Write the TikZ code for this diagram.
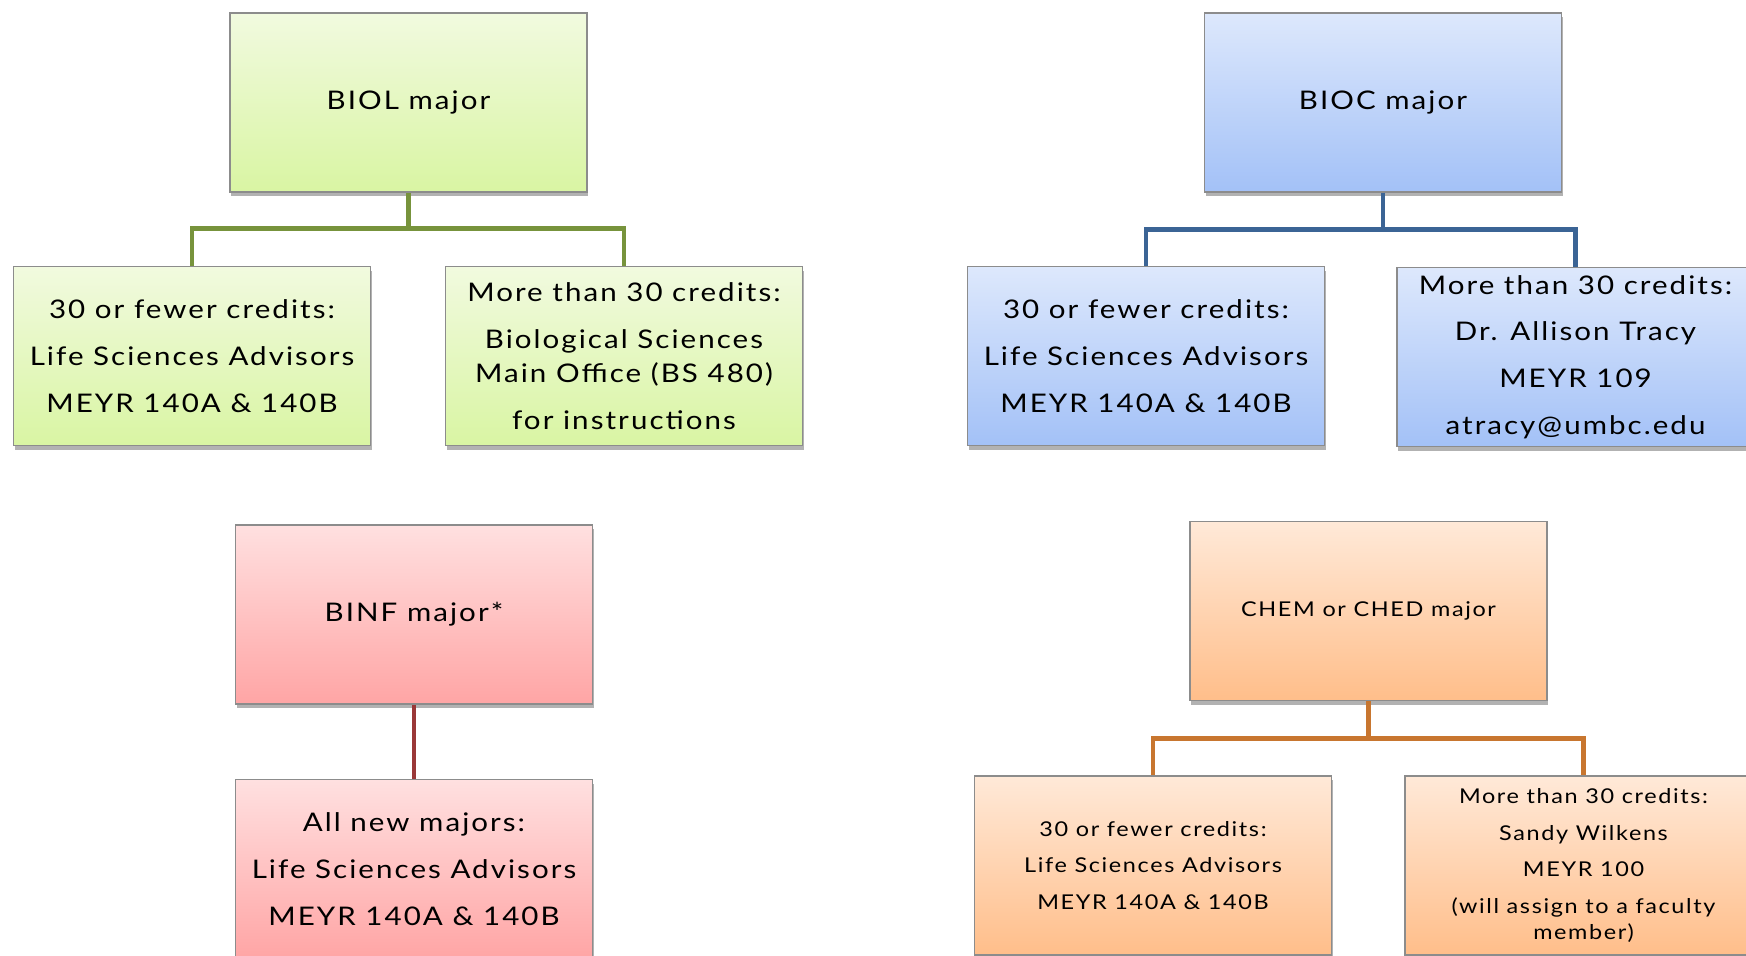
\documentclass[tikz,border=0pt]{standalone}
\usepackage{fontspec}
\setmainfont{Lato}[FakeStretch=1.15, LetterSpace=8]
\usetikzlibrary{shadows}

\definecolor{biolTop}{HTML}{F1FADF}
\definecolor{biolBot}{HTML}{D9F5A3}
\definecolor{biolLine}{HTML}{77933C}
\definecolor{biocTop}{HTML}{DDE8FC}
\definecolor{biocBot}{HTML}{A3C1F7}
\definecolor{biocLine}{HTML}{3B6495}
\definecolor{binfTop}{HTML}{FFE0E0}
\definecolor{binfBot}{HTML}{FFA5A5}
\definecolor{binfLine}{HTML}{9A3838}
\definecolor{chemTop}{HTML}{FFE9D8}
\definecolor{chemBot}{HTML}{FFBE8A}
\definecolor{chemLine}{HTML}{C8762F}

\begin{document}
\begin{tikzpicture}[x=0.1mm, y=-0.1mm,
    box/.style={draw=black!45, line width=0.5pt, minimum width=35.7mm,
      minimum height=17.9mm, align=center, inner sep=0pt,
      font=\fontsize{7.3}{9.8}\selectfont,
      drop shadow={shadow xshift=0.4pt, shadow yshift=-1.2pt, opacity=0.3, fill=black}},
    biolbox/.style={box, top color=biolTop, bottom color=biolBot},
    biocbox/.style={box, top color=biocTop, bottom color=biocBot},
    binfbox/.style={box, top color=binfTop, bottom color=binfBot},
    chembox/.style={box, top color=chemTop, bottom color=chemBot,
      font=\fontsize{5.8}{7.3}\selectfont},
    link/.style={line width=1.4pt}]
    \useasboundingbox (0,0) rectangle (1746,955);
    \clip (0,0) rectangle (1746,955);

    % BIOL
    \node[biolbox] (biol) at (408.5,102.5) {BIOL major};
    \node[biolbox] (biolLow) at (192,356)
      {30 or fewer credits:\\[3.5pt]Life Sciences Advisors\\[3.5pt]MEYR 140A \& 140B};
    \node[biolbox] (biolHigh) at (624,356)
      {More than 30 credits:\\[3.5pt]Biological Sciences\\Main Office (BS 480)\\[3.5pt]for instructions};
    \draw[link, biolLine] (biol.south) -- ++(0,36) -| (biolLow.north);
    \draw[link, biolLine] (biol.south) -- ++(0,36) -| (biolHigh.north);

    % BIOC
    \node[biocbox] (bioc) at (1383,102.5) {BIOC major};
    \node[biocbox] (biocLow) at (1146,356)
      {30 or fewer credits:\\[3.5pt]Life Sciences Advisors\\[3.5pt]MEYR 140A \& 140B};
    \node[biocbox] (biocHigh) at (1575.5,357)
      {More than 30 credits:\\[3.5pt]Dr. Allison Tracy\\[3.5pt]MEYR 109\\[3.5pt]atracy@umbc.edu};
    \draw[link, biocLine] (bioc.south) -- ++(0,37) -| (biocLow.north);
    \draw[link, biocLine] (bioc.south) -- ++(0,37) -| (biocHigh.north);

    % BINF
    \node[binfbox] (binf) at (414,614.5) {BINF major*};
    \node[binfbox] (binfAll) at (414,869)
      {All new majors:\\[3.5pt]Life Sciences Advisors\\[3.5pt]MEYR 140A \& 140B};
    \draw[link, binfLine] (binf.south) -- (binfAll.north);

    % CHEM
    \node[chembox] (chem) at (1368.5,611) {CHEM or CHED major};
    \node[chembox] (chemLow) at (1153,865.5)
      {30 or fewer credits:\\[3.1pt]Life Sciences Advisors\\[3.1pt]MEYR 140A \& 140B};
    \node[chembox] (chemHigh) at (1583.5,865.5)
      {More than 30 credits:\\[3.1pt]Sandy Wilkens\\[3.1pt]MEYR 100\\[3.1pt](will assign to a faculty\\member)};
    \draw[link, chemLine] (chem.south) -- ++(0,37) -| (chemLow.north);
    \draw[link, chemLine] (chem.south) -- ++(0,37) -| (chemHigh.north);
  \end{tikzpicture}
\end{document}
